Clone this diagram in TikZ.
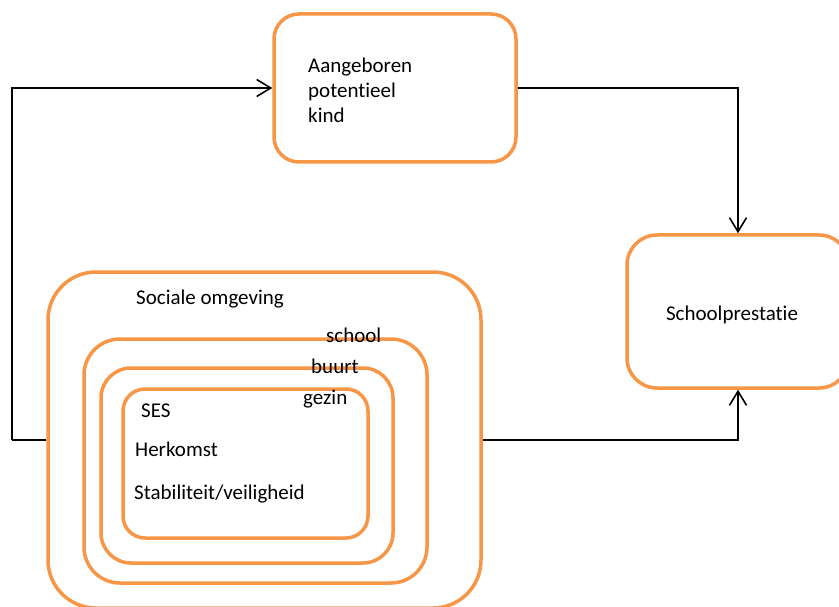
\documentclass[tikz,border=0pt]{standalone}
\usepackage{fontspec}
\setmainfont[Ligatures=NoCommon]{Carlito}
\usetikzlibrary{arrows.meta}
\definecolor{boxorange}{HTML}{F79646}
\begin{document}
\begin{tikzpicture}[x=1pt,y=-1pt,
  obox/.style={draw=boxorange,line width=3.5pt,rounded corners=#1,inner sep=0pt},
  obox/.default=25pt,
  lbl/.style={font=\fontsize{21}{25}\selectfont,inner sep=0pt,anchor=west,align=left},
  conn/.style={line width=1.6pt,-{Straight Barb[length=14pt,width=17pt,line width=1.6pt]}},
  plain/.style={line width=1.6pt}]
\useasboundingbox (0,0) rectangle (839,607);
\clip (0,0) rectangle (839,607);
\fill[white] (0,0) rectangle (839,607);
% boxes
\node[obox,minimum width=242pt,minimum height=148pt] (top) at (395,88) {};
\node[obox=30pt,minimum width=222pt,minimum height=153pt] (sp) at (738,311.5) {};
\node[obox=48pt,minimum width=433pt,minimum height=336pt] (outer) at (264.5,440) {};
\node[obox=36pt,minimum width=343pt,minimum height=244pt] (school) at (255.5,461) {};
\node[obox=30pt,minimum width=292pt,minimum height=195pt] (buurt) at (247,465.5) {};
\node[obox=22pt,minimum width=245pt,minimum height=149pt] (gezin) at (245.5,463.5) {};
% texts
\node[lbl] (t1) at (308,90) {Aangeboren\\potentieel\\kind};
\node[lbl,anchor=center] (t2) at (732,315) {Schoolprestatie};
\node[lbl] (t3) at (136,299) {Sociale omgeving};
\node[lbl] (t4) at (326,335) {school};
\node[lbl] (t5) at (311,366) {buurt};
\node[lbl] (t6) at (303,399) {gezin};
\node[lbl] (t7) at (141,411) {SES};
\node[lbl] (t8) at (135,449) {Herkomst};
\node[lbl] (t9) at (134,494) {Stabiliteit/veiligheid};
% connectors
\coordinate (lc) at (12,440);
\draw[plain] (outer.west) -- (lc);
\draw[conn] (lc) |- (top.west);
\draw[conn] (top.east) -| (sp.north);
\draw[conn] (outer.east) -| (sp.south);
\end{tikzpicture}
\end{document}
